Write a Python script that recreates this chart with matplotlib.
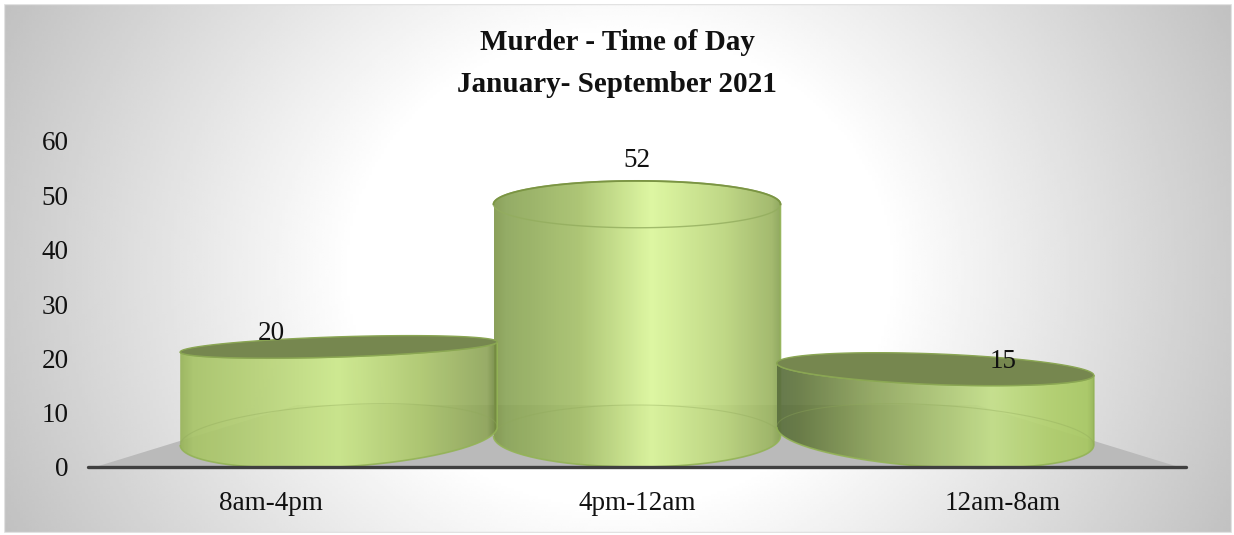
import numpy as np
import matplotlib.pyplot as plt
from matplotlib.patches import PathPatch, Polygon
from matplotlib.path import Path

plt.rcParams['font.family'] = ['Liberation Serif', 'DejaVu Serif']

title_lines = ['Murder - Time of Day', 'January- September 2021']
categories = ['8am-4pm', '4pm-12am', '12am-8am']
values = [20, 52, 15]
yticks = [0, 10, 20, 30, 40, 50, 60]

W, H = 1234, 535
left, right, base, top = 88, 1186, 467, 141
sx = (right - left) / 3
sy = (base - top) / 60

fig = plt.figure(figsize=(W / 100, H / 100), dpi=100)

# background: soft radial grey
bg = fig.add_axes([0, 0, 1, 1])
xx, yy = np.meshgrid(np.linspace(0, W, 400), np.linspace(0, H, 200))
r = np.sqrt(((xx - 620) / 640) ** 2 + ((yy - 270) / 560) ** 2)
shade = np.clip(1 - 0.27 * np.clip((r - 0.42) / 0.72, 0, 1), 0, 1)
bg.imshow(shade, cmap='gray', vmin=0, vmax=1, extent=[0, W, H, 0], aspect='auto')
bg.add_patch(plt.Rectangle((3.5, 3.5), W - 7, H - 7, fill=False, ec='#dcdcdc', lw=1))
bg.fill_between([0, W], 0, 3, color='white')
bg.fill_between([0, W], H - 2, H, color='white')
bg.fill_between([0, 3], 0, H, color='white')
bg.fill_between([W - 2, W], 0, H, color='white')
bg.set_xlim(0, W)
bg.set_ylim(H, 0)
bg.axis('off')

ax = fig.add_axes([left / W, (H - base) / H, (right - left) / W, (base - top) / H])
ax.patch.set_alpha(0)


def hex_rgb(c):
    return [int(c[i:i + 2], 16) / 255 for i in (1, 3, 5)]


def ellipse(cx, y, w, d, t):
    b = 0.235 * abs(y - 30)
    slope = -d * (0.02 + 0.00028 * abs(y - 30) * sy)
    xs = cx + w * np.cos(t)
    ys = y + b * np.sin(t) + slope * w * np.cos(t) * sx / sy
    return xs, ys


# perspective look of each bar: body gradient stops
looks = [
    ([0, 0.04, 0.25, 0.5, 0.75, 0.97, 1], ['#98b45a', '#a8c468', '#b7d278', '#cbe88a', '#aec86e', '#90a65c', '#71873f']),
    ([0, 0.04, 0.3, 0.55, 0.8, 0.97, 1], ['#82994f', '#8ca65a', '#a8c26c', '#dcf79c', '#bcd67e', '#9db564', '#88a255']),
    ([0, 0.06, 0.3, 0.68, 0.85, 0.98, 1], ['#5c7040', '#62763f', '#8ea45c', '#c3df88', '#b2d06e', '#a8c862', '#98b858']),
]
order = [1, 0, 2]
t_up = np.linspace(0, np.pi, 120)
t_dn = np.linspace(np.pi, 2 * np.pi, 120)
floor_y = (base - 436) / sy

# floor seen in perspective
ax.add_patch(Polygon([(-0.48, 0), (2.48, 0), (1 + 340 / sx, (base - 405) / sy), (1 - 340 / sx, (base - 405) / sy)],
                     closed=True, fc='#bababa', ec='none', zorder=1))

for z, i in enumerate(order):
    d = i - 1
    cx = 1 + d * 0.815
    w = (143.5 + 15 * abs(d)) / sx
    y_top = floor_y + 0.82 * values[i]
    above = y_top < 30
    zb = 2 + z * 3

    x_b, y_b = ellipse(cx, floor_y, w, d, t_dn)
    x_t, y_t = ellipse(cx, y_top, w, d, t_dn[::-1] if above else t_up)
    path = Path(np.column_stack([np.r_[x_b, x_t], np.r_[y_b, y_t]]))
    pos, cols = looks[i]
    u = np.linspace(0, 1, 300)
    grad = np.array([np.interp(u, pos, [hex_rgb(c)[k] for c in cols]) for k in range(3)]).T[None, :, :]
    ymin, ymax = path.vertices[:, 1].min(), path.vertices[:, 1].max()
    im = ax.imshow(grad, extent=[cx - w, cx + w, ymin, ymax], aspect='auto', alpha=0.93, zorder=zb,
                   interpolation='bilinear')
    patch = PathPatch(path, fc='none', ec='#93b356', lw=1.2, zorder=zb + 1, alpha=0.9)
    ax.add_patch(patch)
    im.set_clip_path(patch)
    patch.set_clip_on(False)

    # back rim of the base, seen through the body
    x_a, y_a = ellipse(cx, floor_y, w, d, t_up)
    ax.plot(x_a, y_a, color='#8fa85a', lw=0.8, alpha=0.35, zorder=zb + 1, clip_on=False)

    x_e, y_e = ellipse(cx, y_top, w, d, np.linspace(0, 2 * np.pi, 240))
    if above:
        ax.fill(x_e, y_e, fc='#76874f', ec='#8aa653', lw=1, zorder=zb + 2, clip_on=False)
    else:
        x_l, y_l = ellipse(cx, y_top, w, d, t_dn)
        ax.plot(x_l, y_l, color='#93ad5e', lw=1, alpha=0.8, zorder=zb + 2, clip_on=False)
        x_u, y_u = ellipse(cx, y_top, w, d, t_up)
        ax.plot(x_u, y_u, color='#7b9444', lw=1.3, zorder=zb + 2, clip_on=False)

    ax.text(i, values[i] + 4.5, str(values[i]), ha='center', va='center', fontsize=19.5, color='#111111', zorder=20)

ax.set_xlim(-0.5, 2.5)
ax.set_ylim(0, 60)
ax.set_xticks(range(3))
ax.set_xticklabels(categories, fontsize=19.5, color='#111111')
ax.set_yticks(yticks)
ax.set_yticklabels([str(v) for v in yticks], fontsize=19.5, color='#111111')
ax.tick_params(axis='both', length=0)
ax.tick_params(axis='x', pad=17)
ax.tick_params(axis='y', pad=14)
for s in ['top', 'right', 'left']:
    ax.spines[s].set_visible(False)
ax.spines['bottom'].set_color('#404040')
ax.spines['bottom'].set_linewidth(2.4)
ax.spines['bottom'].set_zorder(30)
ax.spines['bottom'].set_capstyle('round')

fig.text(617 / W, 1 - 43 / H, title_lines[0], ha='center', va='center', fontsize=21, fontweight='bold', color='#111111')
fig.text(617 / W, 1 - 85 / H, title_lines[1], ha='center', va='center', fontsize=21, fontweight='bold', color='#111111')

fig.savefig('out.png', dpi=100)
